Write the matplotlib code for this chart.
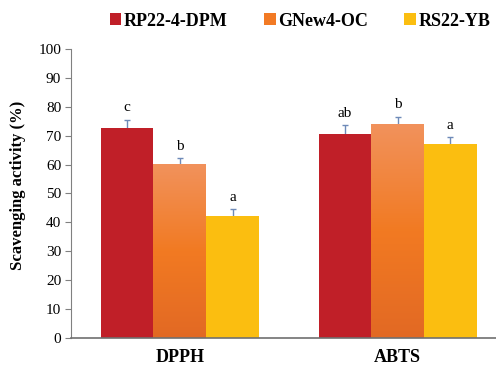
import matplotlib
matplotlib.use("Agg")
import matplotlib.pyplot as plt
import numpy as np
from matplotlib.colors import LinearSegmentedColormap
from matplotlib.patches import Patch

plt.rcParams['font.family'] = ['Liberation Serif', 'DejaVu Serif']

categories = ["DPPH", "ABTS"]
series = ["RP22-4-DPM", "GNew4-OC", "RS22-YB"]
values = {
    "RP22-4-DPM": [72.6, 70.7],
    "GNew4-OC": [59.9, 74.0],
    "RS22-YB": [42.1, 67.0],
}
errors = {
    "RP22-4-DPM": [2.9, 2.9],
    "GNew4-OC": [2.4, 2.6],
    "RS22-YB": [2.4, 2.4],
}
letters = {
    "RP22-4-DPM": ["c", "ab"],
    "GNew4-OC": ["b", "b"],
    "RS22-YB": ["a", "a"],
}
colors = {"RP22-4-DPM": "#C01F28", "GNew4-OC": "#F27A24", "RS22-YB": "#FBBE10"}
yticks = [0, 10, 20, 30, 40, 50, 60, 70, 80, 90, 100]

fig = plt.figure(figsize=(4.96, 3.71), dpi=100)
ax = fig.add_axes([0.143, 0.089, 0.857, 0.779])

x = np.arange(len(categories))
w = 0.242
orange_cmap = LinearSegmentedColormap.from_list(
    "og", ["#E26924", "#F27A22", "#F1925C"])
for i, s in enumerate(series):
    pos = x + (i - 1) * w
    bars = ax.bar(pos, values[s], width=w, color=colors[s], zorder=2,
                  edgecolor='none')
    if s == "GNew4-OC":
        for b in bars:
            b.set_facecolor('none')
            x0, y0 = b.get_x(), b.get_y()
            x1, y1 = x0 + b.get_width(), y0 + b.get_height()
            grad = np.linspace(0, 1, 256).reshape(-1, 1)
            ax.imshow(grad, extent=[x0, x1, y0, y1], origin='lower',
                      cmap=orange_cmap, aspect='auto', zorder=2)
    ax.errorbar(pos, values[s], yerr=errors[s], fmt='none',
                ecolor='#6E8AB8', elinewidth=1.0, capsize=2.5, capthick=1.0,
                zorder=1)
    for p, v, e, l in zip(pos, values[s], errors[s], letters[s]):
        ax.text(p, v + e + 2.9, l, ha='center', va='baseline', fontsize=11)

ax.set_xlim(-0.5, 1.452)
ax.set_ylim(0, 100)
ax.set_yticks(yticks)
ax.set_yticklabels([str(t) for t in yticks], fontsize=11)
ax.set_xticks(x)
ax.set_xticklabels(categories, fontsize=13, fontweight='bold')
ax.tick_params(axis='x', length=0, pad=8)
ax.tick_params(axis='y', length=4, width=0.8, color='#808080', pad=3)
for sp in ['top', 'right']:
    ax.spines[sp].set_visible(False)
ax.spines['left'].set_color('#808080')
ax.spines['bottom'].set_color('#707070')
ax.spines['bottom'].set_linewidth(1.2)
ax.set_ylabel("Scavenging activity (%)", fontsize=12, fontweight='bold')
ax.yaxis.set_label_coords(-0.105, 0.529)

handles = [Patch(facecolor=colors[s], edgecolor='none') for s in series]
fig.legend(handles, series, loc='center', bbox_to_anchor=(0.605, 0.943),
           ncol=3, frameon=False, handlelength=0.65, handleheight=0.65,
           handletextpad=0.15, columnspacing=2.0,
           prop={'weight': 'bold', 'size': 13})

fig.savefig("out.png", dpi=100)
